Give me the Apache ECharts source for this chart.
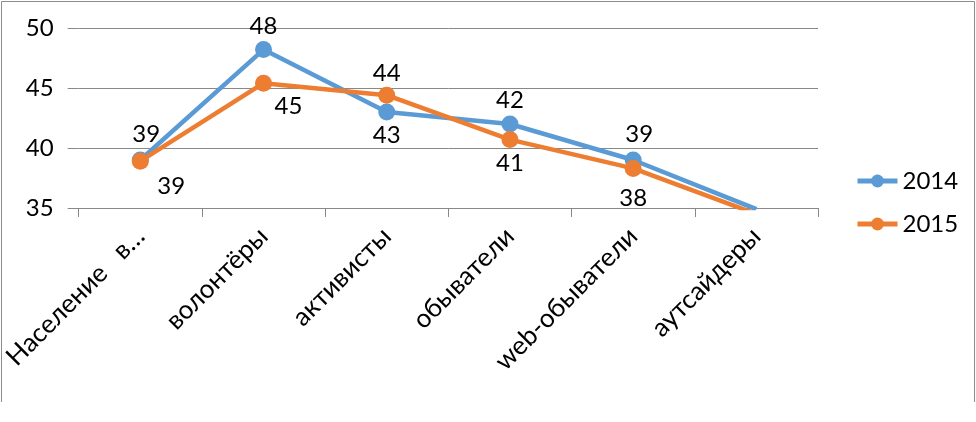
<!DOCTYPE html>
<html>
<head>
<meta charset="utf-8">
<script src="https://cdn.jsdelivr.net/npm/echarts@6/dist/echarts.min.js"></script>
<style>
html,body{margin:0;padding:0;background:#fff;}
#chart{width:976px;height:422px;}
</style>
</head>
<body>
<div id="chart"></div>
<script>
var categories = ['Население   в…', 'волонтёры', 'активисты', 'обыватели', 'web-обыватели', 'аутсайдеры'];
var values2014 = [39.0, 48.2, 43.0, 42.0, 39.0, 34.9];
var values2015 = [38.9, 45.4, 44.4, 40.7, 38.3, 34.5];
var yTicks = [35, 40, 45, 50];

// label style per point (not data)
var lbl2014 = [
  {position: 'top', offset: [6, -2]},
  {position: 'top', offset: [0, 0]},
  {position: 'bottom', offset: [0, 0]},
  {position: 'top', offset: [0, 0]},
  {position: 'top', offset: [6, -2]},
  {position: 'top', offset: [0, 0]}
];
var lbl2015 = [
  {position: 'bottom', offset: [31, 2]},
  {position: 'bottom', offset: [25, 0]},
  {position: 'top', offset: [0, 2]},
  {position: 'bottom', offset: [0, 0]},
  {position: 'bottom', offset: [0, 6]},
  {position: 'bottom', offset: [0, 0]}
];

var FONT = 'Lato, "Open Sans", sans-serif';
var yMin = yTicks[0], yMax = yTicks[yTicks.length - 1];

function build(vals, lbls) {
  return vals.map(function (v, i) {
    return {
      value: v,
      label: {
        position: lbls[i].position,
        offset: lbls[i].offset,
        show: v >= yMin
      }
    };
  });
}

var chart = echarts.init(document.getElementById('chart'));
chart.setOption({
  animation: false,
  backgroundColor: '#ffffff',
  grid: {left: 74, right: 158, top: 28, bottom: 214, containLabel: false},
  legend: {
    orient: 'vertical',
    left: 850,
    top: 164,
    itemWidth: 40,
    itemHeight: 16,
    itemGap: 19,
    lineStyle: {width: 5},
    textStyle: {fontFamily: FONT, fontSize: 24, color: '#000'},
    data: ['2014', '2015']
  },
  xAxis: {
    type: 'category',
    data: categories,
    boundaryGap: true,
    axisLine: {show: true, lineStyle: {color: '#888888', width: 1}},
    axisTick: {show: true, length: 9, lineStyle: {color: '#888888'}},
    axisLabel: {
      rotate: 45,
      interval: 0,
      margin: 24,
      fontFamily: FONT,
      fontSize: 26,
      color: '#000'
    }
  },
  yAxis: {
    type: 'value',
    min: yMin,
    max: yMax,
    interval: yTicks[1] - yTicks[0],
    axisLine: {show: false},
    axisTick: {show: true, length: 11, lineStyle: {color: '#888888'}},
    splitLine: {show: true, lineStyle: {color: '#888888', width: 1}},
    axisLabel: {fontFamily: FONT, fontSize: 24, color: '#000', margin: 25}
  },
  series: [
    {
      name: '2014',
      type: 'line',
      data: build(values2014, lbl2014),
      clip: true,
      symbol: 'circle',
      symbolSize: 17,
      color: '#5B9BD5',
      lineStyle: {width: 4.5, color: '#5B9BD5'},
      itemStyle: {color: '#5B9BD5'},
      label: {show: true, fontFamily: FONT, fontSize: 24, color: '#000', distance: 3,
              formatter: function (p) { return Math.round(p.value); }},
      z: 2
    },
    {
      name: '2015',
      type: 'line',
      data: build(values2015, lbl2015),
      clip: true,
      symbol: 'circle',
      symbolSize: 17,
      color: '#ED7D31',
      lineStyle: {width: 4.5, color: '#ED7D31'},
      itemStyle: {color: '#ED7D31'},
      label: {show: true, fontFamily: FONT, fontSize: 24, color: '#000', distance: 3,
              formatter: function (p) { return Math.round(p.value); }},
      z: 3
    }
  ],
  graphic: [
    {type: 'polyline', shape: {points: [[1.5, 402], [1.5, 1.5], [974.5, 1.5], [974.5, 402]]},
     style: {stroke: '#8c8c8c', fill: null, lineWidth: 1}, silent: true}
  ]
});
</script>
</body>
</html>
